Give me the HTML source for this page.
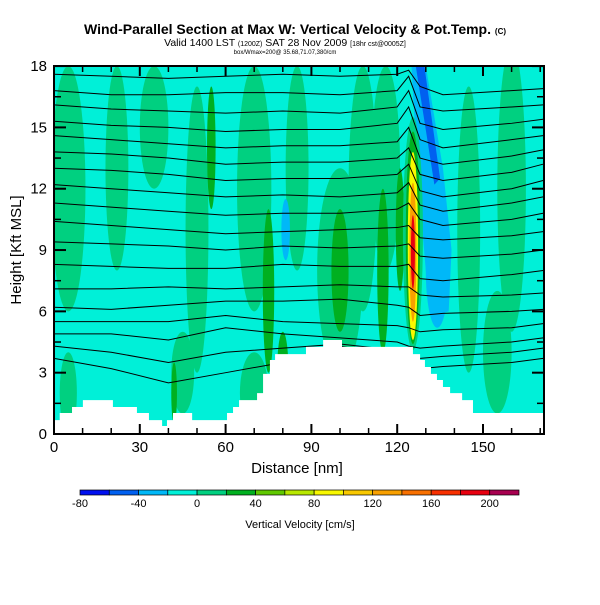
<!DOCTYPE html>
<html><head><meta charset="utf-8"><style>
body{margin:0;background:#fff;}
svg text{font-family:"Liberation Sans",sans-serif;}
</style></head><body>
<svg id="c" width="600" height="600" viewBox="0 0 600 600" xmlns="http://www.w3.org/2000/svg">
<text x="295" y="34" text-anchor="middle" font-size="14" font-weight="bold">Wind-Parallel Section at Max W: Vertical Velocity &amp; Pot.Temp. <tspan font-size="8">(C)</tspan></text>
<text x="285" y="46" text-anchor="middle" font-size="10.5">Valid 1400 LST <tspan font-size="7">(1200Z)</tspan> SAT 28 Nov 2009 <tspan font-size="7">[18hr cst@0005Z]</tspan></text>
<text x="285" y="54" text-anchor="middle" font-size="6">box/Wmax=200@ 35.68,71.07,380/cm</text>
<defs><clipPath id="pc"><rect x="54" y="66" width="490" height="368"/></clipPath></defs>
<g id="plot" clip-path="url(#pc)"></g>
<rect x="54" y="66" width="490" height="368" fill="none" stroke="#000" stroke-width="2"/>
<g id="axes"></g>
<text x="297" y="473" text-anchor="middle" font-size="15">Distance [nm]</text>
<text transform="translate(21,250) rotate(-90)" text-anchor="middle" font-size="15">Height [Kft MSL]</text>
<g id="cbar"></g>
<text x="300" y="528" text-anchor="middle" font-size="11">Vertical Velocity [cm/s]</text>
</svg>
<script>
const NS="http://www.w3.org/2000/svg";
const xTicks=[0,30,60,90,120,150];
const yTicks=[0,3,6,9,12,15,18];
const contourX=[0,20,40,60,80,100,120,124,128,136,160,171];
const contours=[
[17.6,17.5,17.4,17.5,17.6,17.5,17.6,17.8,17,16.6,16.8,16.9],
[16.8,16.6,16.6,16.7,16.7,16.6,16.8,17.5,16,15.8,16,16.1],
[16.1,15.9,15.8,15.7,15.8,15.7,16,16.8,15.2,14.9,15.2,15.4],
[15.3,15.1,15,14.8,14.9,14.9,15.2,16,14.4,14,14.4,14.6],
[14.6,14.4,14.2,14,14.1,14.1,14.3,15,13.5,13.2,13.6,13.9],
[13.8,13.7,13.5,13.2,13.3,13.3,13.5,14,12.7,12.4,12.8,13.2],
[13,12.9,12.7,12.4,12.5,12.5,12.7,13.2,11.9,11.6,12,12.4],
[12.2,12,11.8,11.6,11.7,11.6,11.8,12.3,11.2,10.9,11.3,11.6],
[11.3,11.1,10.9,10.7,10.8,10.8,11,11.3,10.5,10.2,10.5,10.8],
[10.4,10.2,10,9.8,9.9,10,10.1,10.2,9.6,9.5,9.7,9.9],
[9.4,9.3,9.2,9,9.2,9.1,9.2,9.3,8.7,8.6,8.8,9],
[8.3,8.2,8.1,8.1,8.3,8.2,8.2,8.3,7.6,7.5,7.8,8],
[7.1,7.1,7.2,7.1,7.2,7.3,7.2,7.2,6.8,6.7,6.8,6.9],
[6.2,6.1,6.3,6.5,6.5,6.6,6.3,6.2,5.8,5.9,6,6.1],
[5.5,5.5,5.5,5.8,5.5,5.4,5.3,5.2,5,5.1,5.2,5.4],
[4.9,4.9,4.6,5.2,4.9,4.7,4.5,4.3,4.2,4.3,4.5,4.7],
[4.3,4,3.5,4,4.2,4.4,4.1,3.8,3.7,3.8,4,4.2],
[3.7,3.2,2.5,3,3.5,4.3,3.8,3.3,3.2,3.3,3.5,3.7]];
const terrainX=[0,2,6.3,10.1,20.6,29,33.2,37.8,39.5,41.6,48.3,60.5,62.6,64.7,71,73.1,75.5,77.3,88.1,94.1,100.7,125.5,128,129.7,131.8,133.9,136,138.5,142.7,146.5];
const terrainH=[0.68,1.03,1.32,1.66,1.32,1.03,0.68,0.39,0.68,1.03,0.68,1.03,1.32,1.66,2.0,2.94,3.62,3.91,4.26,4.6,4.26,3.91,3.62,3.28,2.94,2.64,2.3,2.0,1.66,1.03];
// velocity blobs: [cx nm, cy km, rx nm, ry km, value cm/s]
const blobs=[[5,12,6,6,10],[22,13,4,5,10],[35,15,5,3,10],[50,10,4,7,10],[70,12,6,6,10],[85,13,4,5,10],[100,8,8,5,10],[108,12,5,6,10],[116,13,5,5,10],[145,10,4,7,10],[160,12,5,7,10],[155,4,5,3,10],[70,2,5,2,10],[45,3,4,2,10],[5,2,3,2,10],
[100,8,3,3,30],[75,7,2,4,30],[115,8,2,4,30],[42,2,1,1.5,30],[80,3,2,2,30],[55,14,1.5,3,30],[121,10,1.5,3,30],
[81,10,1.5,1.5,-30],[134,8,4,2.8,-30],
[125.5,9.8,3.5,5.7,10],[125.5,9.6,2.5,5.2,30],[125.5,9.2,1.8,4.6,90],[125.5,8.9,1.2,3.4,130],[125.5,8.9,0.7,1.8,190]];
const cbLevels=[-80,-60,-40,-20,0,20,40,60,80,100,120,140,160,180,200,220];
const cbColors=["#0010f0","#0060f0","#00b8f8","#00f0d8","#00d080","#00b020","#60c800","#b8e800","#f8f800","#f8c800","#f8a000","#f87000","#f83000","#e80010","#a80050"];
const cbLabels=[-80,-40,0,40,80,120,160,200];
const X=v=>54+v*2.86, Y=v=>434-v*20.44;
function col(v){for(let i=0;i<cbColors.length;i++){if(v<cbLevels[i+1])return cbColors[i];}return cbColors[cbColors.length-1];}
function el(t,a,p){const e=document.createElementNS(NS,t);for(const k in a)e.setAttribute(k,a[k]);p.appendChild(e);return e;}
const plot=document.getElementById('plot');
const bg=el('rect',{x:54,y:66,width:490,height:368,fill:col(-10)},plot);


const dd1=el('polygon',{points:[[125,18],[130,18],[136,13],[139,9],[138,6],[133,5.8],[130,8],[127,13]].map(p=>X(p[0])+','+Y(p[1])).join(' '),fill:col(-30)},plot);


blobs.forEach(b=>{const e=el('ellipse',{cx:X(b[0]),cy:Y(b[1]),rx:b[2]*2.86,ry:b[3]*20.44,fill:col(b[4])},plot);

});
const dd2=el('polygon',{points:[[126.5,18],[129.5,18],[135,12.5],[133,12.2]].map(p=>X(p[0])+','+Y(p[1])).join(' '),fill:col(-50)},plot);


contours.forEach((c,i)=>{const e=el('polyline',{points:c.map((h,j)=>X(contourX[j])+','+Y(h)).join(' '),fill:'none',stroke:'#000','stroke-width':1},plot);

});
let pts=[[X(0),Y(0)]];
terrainX.forEach((x,i)=>{const nx=i+1<terrainX.length?terrainX[i+1]:171.3;pts.push([X(x),Y(terrainH[i])]);pts.push([X(nx),Y(terrainH[i])]);});
pts.push([X(171.3),Y(0)]);
const ter=el('polygon',{points:pts.map(p=>p.join(',')).join(' '),fill:'#fff'},plot);


const ax=document.getElementById('axes');
xTicks.forEach(v=>{el('line',{x1:X(v),x2:X(v),y1:434,y2:424,stroke:'#000','stroke-width':2},ax);el('line',{x1:X(v),x2:X(v),y1:66,y2:76,stroke:'#000','stroke-width':2},ax);
const t=el('text',{x:X(v),y:452,'text-anchor':'middle','font-size':15},ax);t.textContent=v;

});
for(let v=10;v<171;v+=10){if(v%30){el('line',{x1:X(v),x2:X(v),y1:434,y2:428,stroke:'#000','stroke-width':1.5},ax);el('line',{x1:X(v),x2:X(v),y1:66,y2:72,stroke:'#000','stroke-width':1.5},ax);}}
yTicks.forEach(v=>{el('line',{x1:54,x2:66,y1:Y(v),y2:Y(v),stroke:'#000','stroke-width':2},ax);el('line',{x1:544,x2:532,y1:Y(v),y2:Y(v),stroke:'#000','stroke-width':2},ax);
const t=el('text',{x:47,y:Y(v)+5,'text-anchor':'end','font-size':15},ax);t.textContent=v;

});
for(let v=1.5;v<18;v+=3){el('line',{x1:54,x2:61,y1:Y(v),y2:Y(v),stroke:'#000','stroke-width':1.5},ax);el('line',{x1:544,x2:537,y1:Y(v),y2:Y(v),stroke:'#000','stroke-width':1.5},ax);}
const cb=document.getElementById('cbar');
const cw=439/cbColors.length, CX=v=>80+(v+80)/20*cw;
cbColors.forEach((c,i)=>{const r=el('rect',{x:80+i*cw,y:490,width:cw,height:5,fill:c,stroke:'#000','stroke-width':0.7},cb);

});
cbLabels.forEach(v=>{const t=el('text',{x:CX(v),y:507,'text-anchor':'middle','font-size':11},cb);t.textContent=v;

});
</script>
</body></html>
